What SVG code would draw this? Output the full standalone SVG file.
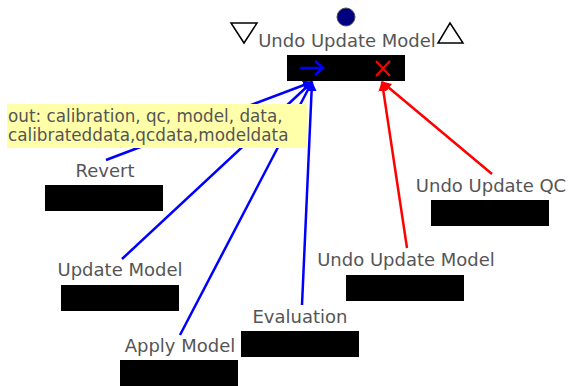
<svg xmlns="http://www.w3.org/2000/svg" width="568" height="386" viewBox="0 0 568 386">
<style>
.lbl{font-family:"DejaVu Sans","Open Sans",sans-serif;font-size:18px;fill:#555;text-anchor:middle}
.box{fill:#000}
.blue{stroke:#0000ff;stroke-width:2.5;fill:none}
.red{stroke:#ff0000;stroke-width:2.5;fill:none}
.tip{font-family:"DejaVu Sans","Open Sans",sans-serif;font-size:16.8px;fill:#555}
</style>
<defs>
<marker id="ab" viewBox="0 0 10 10" refX="9" refY="5" markerWidth="4" markerHeight="4" orient="auto" markerUnits="strokeWidth"><path d="M0,0 L10,5 L0,10 z" fill="#0000ff"/></marker>
<marker id="ar" viewBox="0 0 10 10" refX="9" refY="5" markerWidth="4" markerHeight="4" orient="auto" markerUnits="strokeWidth"><path d="M0,0 L10,5 L0,10 z" fill="#ff0000"/></marker>
</defs>
<g id="connectors">
<line class="blue" x1="106" y1="160" x2="312" y2="82" marker-end="url(#ab)"/>
<line class="blue" x1="122" y1="259" x2="312" y2="82" marker-end="url(#ab)"/>
<line class="blue" x1="180" y1="335" x2="312" y2="82" marker-end="url(#ab)"/>
<line class="blue" x1="302" y1="305" x2="312" y2="82" marker-end="url(#ab)"/>
<line class="red" x1="407" y1="248" x2="382" y2="82" marker-end="url(#ar)"/>
<line class="red" x1="492" y1="174" x2="382" y2="82" marker-end="url(#ar)"/>
</g>
<g id="main">
<circle cx="346" cy="17" r="9" fill="#000080" stroke="#555" stroke-width="1"/>
<polygon points="231,23 257,23 244,43" fill="none" stroke="#000" stroke-width="1.5"/>
<polygon points="438,43 463,43 450,23" fill="none" stroke="#000" stroke-width="1.5"/>
<text class="lbl" x="347" y="47">Undo Update Model</text>
<rect class="box" x="287" y="55" width="118" height="26"/>
<path d="M300,68 H323 M315,61 L323,68 L315,75" stroke="#0000ff" stroke-width="2.5" fill="none"/>
<path d="M376,61 L390,76 M390,61 L376,76" stroke="#ff0000" stroke-width="2.2" fill="none"/>
</g>
<g id="revert">
<text class="lbl" x="105" y="177">Revert</text>
<rect class="box" x="45" y="185" width="118" height="26"/>
</g>
<g id="update-model">
<text class="lbl" x="120" y="276">Update Model</text>
<rect class="box" x="61" y="285" width="118" height="26"/>
</g>
<g id="apply-model">
<text class="lbl" x="180" y="352">Apply Model</text>
<rect class="box" x="120" y="360" width="118" height="26"/>
</g>
<g id="evaluation">
<text class="lbl" x="300" y="323">Evaluation</text>
<rect class="box" x="241" y="331" width="118" height="26"/>
</g>
<g id="undo-update-model-2">
<text class="lbl" x="406" y="266">Undo Update Model</text>
<rect class="box" x="346" y="275" width="118" height="26"/>
</g>
<g id="undo-update-qc">
<text class="lbl" x="491" y="192">Undo Update QC</text>
<rect class="box" x="431" y="200" width="118" height="26"/>
</g>
<g id="tooltip">
<rect x="7" y="104" width="300" height="44" fill="#ffffaa"/>
<text class="tip" x="8" y="122">out: calibration, qc, model, data,</text>
<text class="tip" x="8" y="141">calibrateddata,qcdata,modeldata</text>
</g>
</svg>
